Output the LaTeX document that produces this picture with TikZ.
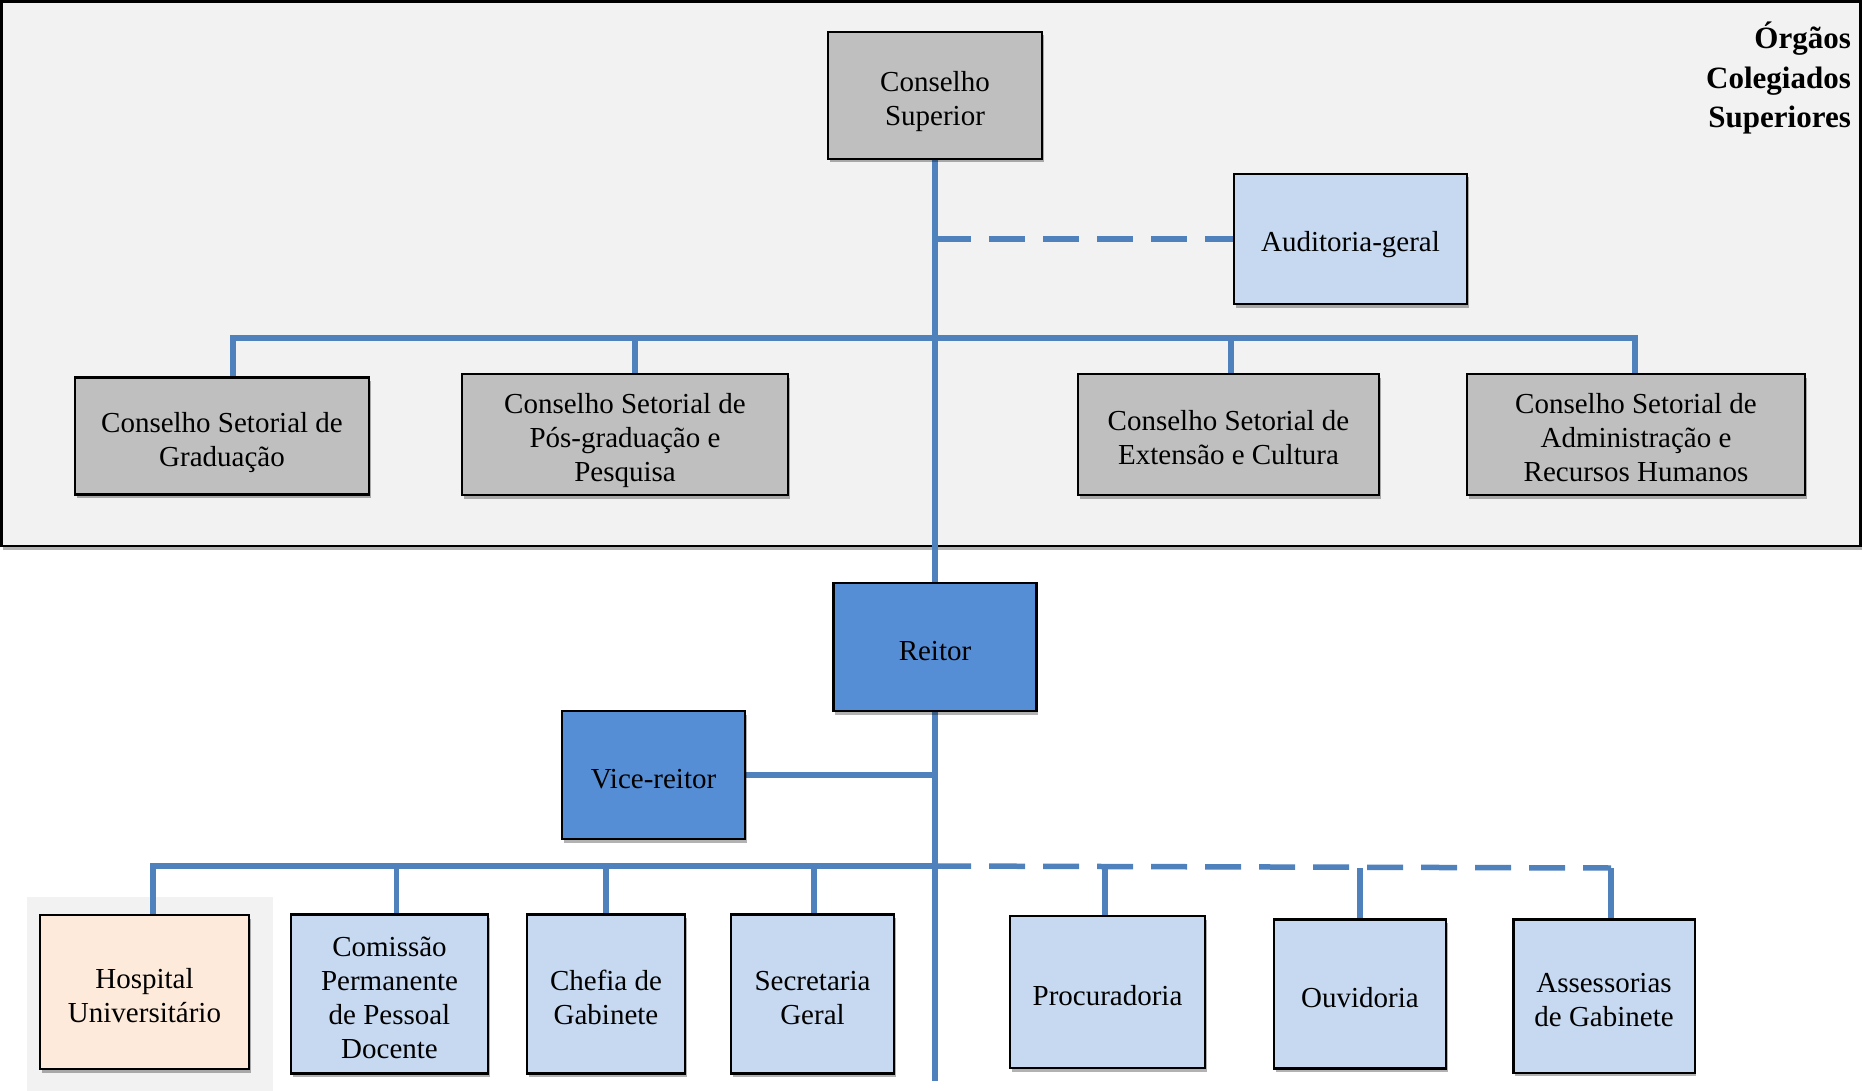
\documentclass[tikz,border=0pt]{standalone}
\usepackage{fontspec}
\setmainfont{Liberation Serif}
\usetikzlibrary{shadows}
\definecolor{framebg}{HTML}{F2F2F2}
\definecolor{boxgray}{HTML}{BFBFBF}
\definecolor{lightblue}{HTML}{C6D9F1}
\definecolor{darkblue}{HTML}{558ED5}
\definecolor{peach}{HTML}{FDEADA}
\definecolor{linecol}{HTML}{4F81BD}
\pgfdeclarelayer{bg}
\pgfdeclarelayer{lines}
\pgfsetlayers{bg,lines,main}
\begin{document}
\begin{tikzpicture}[x=1pt,y=-1pt,
  orgbox/.style={draw=black, line width=2.5pt, rectangle, align=center, inner sep=0pt,
    font=\fontsize{29}{34}\selectfont, text depth=6.5pt, text height=32.5pt,
    drop shadow={shadow xshift=1.5pt, shadow yshift=-3.5pt, opacity=.3, fill=black}},
  twolines/.style={text height=66.5pt},
  threelines/.style={text height=100.5pt},
  fourlines/.style={text height=134.5pt},
  sz/.style 2 args={minimum width=#1pt, minimum height=#2pt},
  graybox/.style={orgbox, fill=boxgray},
  lbox/.style={orgbox, fill=lightblue},
  dbox/.style={orgbox, fill=darkblue},
  pbox/.style={orgbox, fill=peach},
  conn/.style={draw=linecol, line width=5.5pt},
  dconn/.style={conn, dash pattern=on 36pt off 18pt},
  titletxt/.style={anchor=base east, inner sep=0pt, font=\fontsize{31}{40}\selectfont\bfseries}
]
\useasboundingbox (0,0) rectangle (1862,1091);

% nodes
\node[graybox, twolines, sz={214}{127}] (cs) at (935,95.5) {Conselho\\Superior};
\node[lbox, sz={233}{130}] (aud) at (1350.5,239) {Auditoria-geral};
\node[graybox, twolines, sz={294}{117}] (csg) at (222,436) {Conselho Setorial de\\Graduação};
\node[graybox, threelines, sz={326}{121}] (cspp) at (625,434.5) {Conselho Setorial de\\Pós-graduação e\\Pesquisa};
\node[graybox, twolines, sz={301}{121}] (csec) at (1228.5,434.5) {Conselho Setorial de\\Extensão e Cultura};
\node[graybox, threelines, sz={338}{121}] (csarh) at (1636,434.5) {Conselho Setorial de\\Administração e\\Recursos Humanos};
\node[dbox, sz={203}{128}] (reitor) at (935,647) {Reitor};
\node[dbox, sz={183}{128}] (vice) at (653.5,775) {Vice-reitor};
\node[pbox, twolines, sz={209}{154}] (hosp) at (144.5,992) {Hospital\\Universitário};
\node[lbox, fourlines, sz={197}{159}] (com) at (389.5,994) {Comissão\\Permanente\\de Pessoal\\Docente};
\node[lbox, twolines, sz={158}{159}] (chefia) at (606,994) {Chefia de\\Gabinete};
\node[lbox, twolines, sz={163}{159}] (sec) at (812.5,994) {Secretaria\\Geral};
\node[lbox, sz={195}{152}] (proc) at (1107.5,992) {Procuradoria};
\node[lbox, sz={172}{149}] (ouv) at (1360,994) {Ouvidoria};
\node[lbox, twolines, sz={181.5}{153.5}] (ass) at (1604,996) {Assessorias\\de Gabinete};

\node[titletxt] (t1) at (1851,49) {Órgãos};
\node[titletxt] (t2) at (1851,88.5) {Colegiados};
\node[titletxt] (t3) at (1851,128) {Superiores};

\coordinate (busU) at (935,338);
\coordinate (busL) at (935,866);
\coordinate (busR) at (1611,868);
\coordinate (vend) at (935,1081);

\begin{pgfonlayer}{bg}
  \fill[white] (0,0) rectangle (1862,1091);
  \draw[fill=framebg, line width=2.5pt,
    drop shadow={shadow xshift=1pt, shadow yshift=-4pt, opacity=.3, fill=black}]
    (1.5,1.5) rectangle (1860.5,546);
  \fill[framebg] (27,897) rectangle (273,1091);
\end{pgfonlayer}

\begin{pgfonlayer}{lines}
  \draw[conn] (cs.south) -- (reitor.north);
  \draw[conn] (reitor.south) -- (vend);
  \draw[dconn] (cs.south |- aud.west) -- (aud.west);
  \draw[conn] ([xshift=11pt]csg.north) |- (busU) -| ([xshift=-1pt]csarh.north);
  \draw[conn] ([xshift=10pt]cspp.north) -- ([xshift=10pt]cspp.north |- busU);
  \draw[conn] ([xshift=2.5pt]csec.north) -- ([xshift=2.5pt]csec.north |- busU);
  \draw[conn] (vice.east) -- (vice.east -| reitor.south);
  \draw[conn] ([xshift=8.5pt]hosp.north) |- (busL);
  \draw[conn] ([xshift=7pt]com.north) -- ([xshift=7pt]com.north |- busL);
  \draw[conn] (chefia.north) -- (chefia.north |- busL);
  \draw[conn] ([xshift=1.5pt]sec.north) -- ([xshift=1.5pt]sec.north |- busL);
  \draw[dconn] (busL) -- (busR);
  \draw[conn] (busR) -- ([xshift=7pt]ass.north);
  \draw[conn] ([xshift=-2.5pt]proc.north) -- ([xshift=-2.5pt]proc.north |- busR);
  \draw[conn] (ouv.north) -- (ouv.north |- busR);
\end{pgfonlayer}
\end{tikzpicture}
\end{document}
